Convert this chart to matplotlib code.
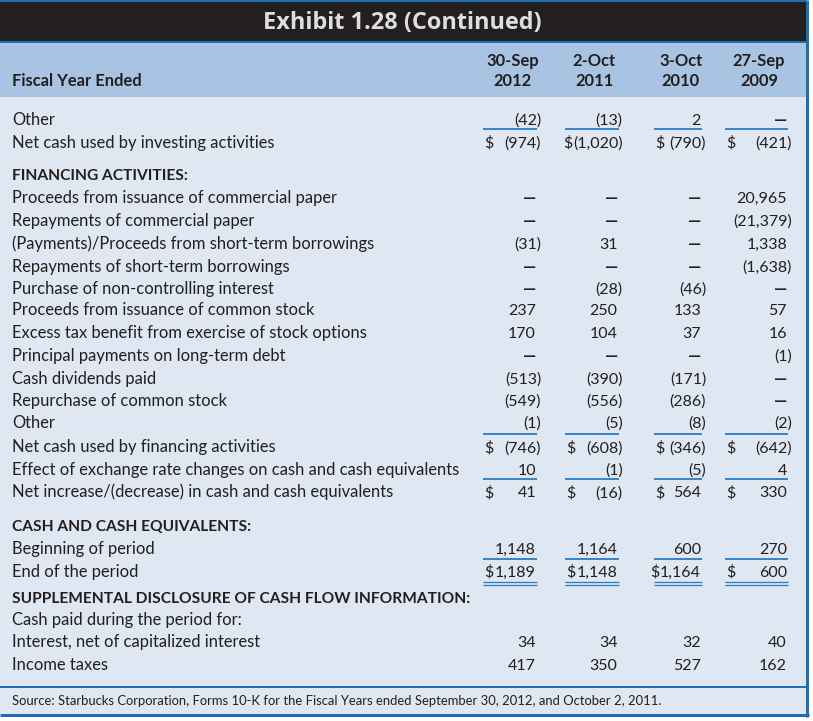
import matplotlib
matplotlib.use("Agg")
import matplotlib.pyplot as plt
from matplotlib.patches import Rectangle

# ---------------- data ----------------
title = "Exhibit 1.28 (Continued)"
header_label = "Fiscal Year Ended"
col_month = ["30-Sep", "2-Oct", "3-Oct", "27-Sep"]
col_year = ["2012", "2011", "2010", "2009"]

row_labels = [
    "Other",
    "Net cash used by investing activities",
    "FINANCING ACTIVITIES:",
    "Proceeds from issuance of commercial paper",
    "Repayments of commercial paper",
    "(Payments)/Proceeds from short-term borrowings",
    "Repayments of short-term borrowings",
    "Purchase of non-controlling interest",
    "Proceeds from issuance of common stock",
    "Excess tax benefit from exercise of stock options",
    "Principal payments on long-term debt",
    "Cash dividends paid",
    "Repurchase of common stock",
    "Other",
    "Net cash used by financing activities",
    "Effect of exchange rate changes on cash and cash equivalents",
    "Net increase/(decrease) in cash and cash equivalents",
    "CASH AND CASH EQUIVALENTS:",
    "Beginning of period",
    "End of the period",
    "SUPPLEMENTAL DISCLOSURE OF CASH FLOW INFORMATION:",
    "Cash paid during the period for:",
    "Interest, net of capitalized interest",
    "Income taxes",
]

# None = blank cell, 0 = shown as a dash
fy2012 = [-42, -974, None, 0, 0, -31, 0, 0, 237, 170, 0, -513, -549, -1,
          -746, 10, 41, None, 1148, 1189, None, None, 34, 417]
fy2011 = [-13, -1020, None, 0, 0, 31, 0, -28, 250, 104, 0, -390, -556, -5,
          -608, -1, -16, None, 1164, 1148, None, None, 34, 350]
fy2010 = [2, -790, None, 0, 0, 0, 0, -46, 133, 37, 0, -171, -286, -8,
          -346, -5, 564, None, 600, 1164, None, None, 32, 527]
fy2009 = [0, -421, None, 20965, -21379, 1338, -1638, 0, 57, 16, -1, 0, 0, -2,
          -642, 4, 330, None, 270, 600, None, None, 40, 162]

source = ("Source: Starbucks Corporation, Forms 10-K for the Fiscal Years ended "
          "September 30, 2012, and October 2, 2011.")

# ---------------- layout / style ----------------
W, H = 813, 721
section_rows = {2, 17, 20}
dollar_rows = {1, 14, 16, 19}
underline_rows = {0, 13, 15, 18}
double_rows = {19}

row_y = [119, 141.7, 174, 197, 220, 243, 265.7, 288, 309.5, 332, 355, 377.7,
         400, 422, 446.5, 469, 491.5, 525, 548, 571, 597, 619.5, 641.5, 664.5]
underline_y = {0: 128.8, 13: 433.7, 15: 479.0, 18: 558.7}
double_y = (581.8, 585.2)

pos_right = [536, 617.5, 701, 787]
paren_extra = 5
dollar_x = [484, 566, 655, 726]

TEXT = "#231f20"
BLUE = "#1f6db3"
ULINE = "#2b7cc0"
BODY_BG = "#dfe7f2"
HEAD_BG = "#a9c4e2"
TITLE_BG = "#231f20"
TITLE_FG = "#dedede"

FAM = ["Lato", "DejaVu Sans"]
TFAM = ["Open Sans", "DejaVu Sans"]

fig = plt.figure(figsize=(W / 100, H / 100), dpi=100)
fig.patch.set_facecolor("white")
ax = fig.add_axes([0, 0, 1, 1])
ax.set_xlim(0, W)
ax.set_ylim(H, 0)
ax.axis("off")
renderer = fig.canvas.get_renderer()


def width_of(text, family, weight, fs):
    t = ax.text(0, 0, text, fontsize=fs, family=family, weight=weight)
    w = t.get_window_extent(renderer).width
    t.remove()
    return w


def fit(text, family, weight, target):
    return 10 * target / width_of(text, family, weight, 10)


body_fs = fit("Proceeds from issuance of commercial paper", FAM, "normal", 325)
num_fs = body_fs * 0.97
dash_fs = body_fs * 1.0
sect_fs = fit("SUPPLEMENTAL DISCLOSURE OF CASH FLOW INFORMATION:", FAM, "bold", 457)
head_fs = fit("Fiscal Year Ended", FAM, "bold", 131)
title_fs = fit(title, TFAM, "bold", 279)
foot_fs = fit(source, FAM, "normal", 652)
dollar_w = width_of("$", FAM, "normal", num_fs)


def base(y, fs, cap=0.72):
    return y + cap * fs * 100 / 72 / 2


# ---------------- frame ----------------
ax.add_patch(Rectangle((0, 0), 807, 715, facecolor=BODY_BG, edgecolor="none", zorder=0))
ax.add_patch(Rectangle((0, 2), 807, 39.5, facecolor=TITLE_BG, edgecolor="none", zorder=1))
ax.add_patch(Rectangle((0, 42.5), 807, 54.5, facecolor=HEAD_BG, edgecolor="none", zorder=1))
lw2 = 2 * 0.72
ax.plot([0, 807], [1, 1], color=BLUE, lw=lw2, zorder=3, solid_capstyle="butt")
ax.plot([0, 807], [41.7, 41.7], color=BLUE, lw=lw2, zorder=3, solid_capstyle="butt")
ax.plot([0, 808], [686.5, 686.5], color=BLUE, lw=lw2, zorder=3, solid_capstyle="butt")
ax.plot([0, 808.5], [715, 715], color=BLUE, lw=3 * 0.72, zorder=3, solid_capstyle="butt")
ax.plot([807, 807], [0, 716.5], color=BLUE, lw=3 * 0.72, zorder=3, solid_capstyle="butt")

# ---------------- title & header ----------------
ax.text(402, base(20.5, title_fs), title, family=TFAM, weight="bold",
        fontsize=title_fs, color=TITLE_FG, ha="center", va="baseline", zorder=4)
ax.text(12, base(80, head_fs), header_label, family=FAM, weight="bold",
        fontsize=head_fs, color=TEXT, ha="left", va="baseline", zorder=4)
for c in range(4):
    cx = (dollar_x[c] + pos_right[c] + paren_extra) / 2
    ax.text(cx, base(60, head_fs), col_month[c], family=FAM, weight="bold",
            fontsize=head_fs, color=TEXT, ha="center", va="baseline", zorder=4)
    ax.text(cx, base(80, head_fs), col_year[c], family=FAM, weight="bold",
            fontsize=head_fs, color=TEXT, ha="center", va="baseline", zorder=4)

# ---------------- body ----------------
cols = [fy2012, fy2011, fy2010, fy2009]
for i, lab in enumerate(row_labels):
    y = row_y[i]
    if i in section_rows:
        ax.text(12, base(y, sect_fs), lab, family=FAM, weight="bold",
                fontsize=sect_fs, color=TEXT, ha="left", va="baseline", zorder=4)
        continue
    ax.text(12, base(y, body_fs), lab, family=FAM, fontsize=body_fs,
            color=TEXT, ha="left", va="baseline", zorder=4)
    for c in range(4):
        v = cols[c][i]
        if v is None:
            continue
        if v == 0:
            t = ax.text(pos_right[c] + 0.5, base(y, body_fs), "\u2014", family=FAM,
                        weight="bold", fontsize=dash_fs, color=TEXT, ha="right",
                        va="baseline", zorder=4)
        elif v < 0:
            t = ax.text(pos_right[c] + paren_extra, base(y, body_fs), f"({abs(v):,})",
                        family=FAM, fontsize=num_fs, color=TEXT, ha="right",
                        va="baseline", zorder=4)
        else:
            t = ax.text(pos_right[c], base(y, body_fs), f"{v:,}", family=FAM,
                        fontsize=num_fs, color=TEXT, ha="right", va="baseline",
                        zorder=4)
        if i in dollar_rows:
            left = t.get_window_extent(renderer).x0
            dx = min(dollar_x[c], left - dollar_w - 0.5)
            ax.text(dx, base(y, body_fs), "$", family=FAM,
                    fontsize=num_fs, color=TEXT, ha="left", va="baseline",
                    zorder=4)
        if i in underline_rows:
            ax.plot([dollar_x[c] - 1, pos_right[c] + 1], [underline_y[i]] * 2,
                    color=ULINE, lw=1.8 * 0.72, zorder=3, solid_capstyle="butt")
        if i in double_rows:
            for yy in double_y:
                ax.plot([dollar_x[c] - 1, pos_right[c] + 1], [yy, yy],
                        color=ULINE, lw=1.3 * 0.72, zorder=3,
                        solid_capstyle="butt")

# ---------------- footer ----------------
ax.text(12, base(700, foot_fs), source, family=FAM, fontsize=foot_fs,
        color=TEXT, ha="left", va="baseline", zorder=4)

fig.savefig("out.png", dpi=100, facecolor="white")
